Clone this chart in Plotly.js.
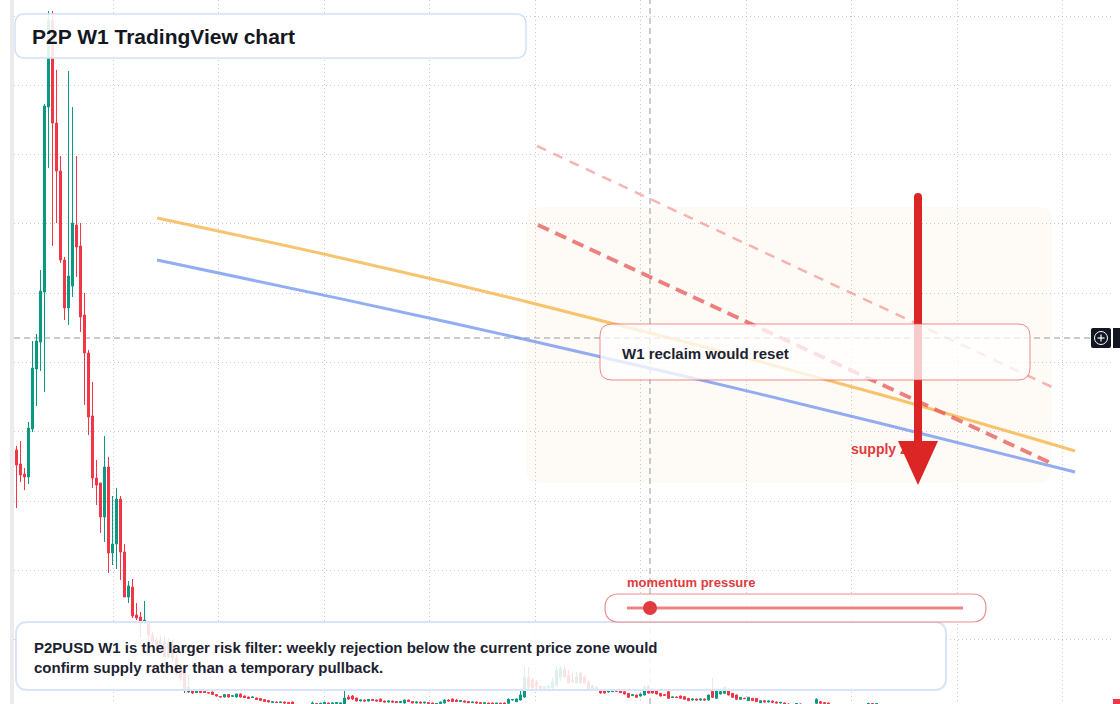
<!DOCTYPE html>
<html>
<head>
<meta charset="utf-8">
<script src="https://cdn.plot.ly/plotly-3.0.1.min.js"></script>
<style>
  html, body { margin: 0; padding: 0; background: #ffffff; }
  #chart { width: 1120px; height: 704px; }
</style>
</head>
<body>
<div id="chart"></div>
<script>
// ---------------- DATA (weekly P2PUSD candles, price in chart units) ----------------
const candleOpen = [259,245,235,232,280,340,367,417,602,689,586,538,449,401,423,484,463,394,356,293,
  231,226,192,242,156,165,210,157,112,122,94,92,87,86,74,69,62,67,52,64,
  51,39,36,17,19,16.5,18,17.5,16.5,17,14.5,12.5,12,14.5,12.8,12,15,13,12,11.5,
  11,10.5,9.5,8.5,6.5,7,6.5,7,6.5,7,4.5,3.8,4.2,3.5,4.5,5.5,4.5,5,6,5,
  5.5,5,5,12,13,11,8,9,8,9.5,9,10,8,7,8,7.5,6.5,6,9,7.5,
  6,7,6,6.5,6,5,5.5,6,9,10,9,7.5,8,7.5,6.3,7,6.5,5.5,6,6,
  5,5.8,6,5.7,9,7.3,9,12,31,29,27,23,20,21,21,24,32,40,34,29,
  26,36,32,27,20,22,19,19,17,17.3,19,19,17.3,15.7,13.5,14,13,14,23,19,
  18.3,15.7,14.3,17.3,11.5,12,13,12.3,10.7,9,10,9,10,9,19,10.7,15,15.7,19,15.7,
  14,9.7,10.8,8.3,10.7,10.7,6.3,8.3,7,8,7,6,6,5,4,4.2,5,4,4.5,4,
  5.7,7.3,6.5,6,4.5,4,3.5,4,3.3,3.7,3,3.4,3,4,5.5,5];
const candleHigh = [263,268,241,287,368,375,439,605,698,698,639,553,452,638,602,553,486,416,359,327,
  249,226,273,252,213,221,213,165,128,130,106,97,108,88,77,72,74,72,71,69,
  54,45,36,34,20,20,19,18,17,17.5,15,13,15,15,14,15.5,15.5,13.5,12.5,12.5,
  11.5,11,10,9,7.5,7.5,7.5,7.5,7,7.5,5,4.6,4.5,4.5,7.5,6,6.5,7.5,6.5,6.5,
  7,6.5,19,14,14,11.5,9.5,9.5,10,10,9.5,10.5,8.5,8.5,8.5,8,8,9.5,9.5,8,
  7.5,7.5,7.2,7,6.5,6,7.5,9.5,9.5,10.5,10,9,8.5,8,7.5,7.5,7,6.5,6.5,6.5,
  6.3,6.2,6.5,10.5,10,10.5,19,42,42,31,29,24,23,24,31,43,43,43,39,36,
  37,37,34,29,24,23,19.5,19.5,18.5,19.5,19.5,19.5,17.5,16,14.7,14.5,15.5,24,24,21,
  19,16,14.7,18,12.5,12.5,13.5,12.7,11,10.5,10.5,10.5,10.5,14.5,31,21,18,22.3,19.5,16,
  14.5,12,11.2,12,11,11,8.7,8.7,8.5,8.5,7.5,7,6.5,5.5,5,6,5.5,5,5,4.5,
  10.7,8,7,6.5,5,4.5,4.2,4.3,4,4,3.6,3.8,4,6.3,6,5.8];
const candleLow = [201,227,219,225,277,303,338,317,541,463,486,446,389,384,412,432,377,304,274,221,
  204,176,167,136,144,140,129,112,106,91,89,72,86,64,62,61,57,51,51,47,
  34,28,16,16,15,16,16,16,15.5,14,12.5,11.5,11.5,11.5,12,11.5,11.5,11,10,11,
  9,8,7,6.5,6,6,6,5.5,5,4,3,3,3,3,4,4,4,4,4.5,4.5,
  5,4.5,4,9,9,7.5,7.5,7.5,7.5,8,7.5,7,6.5,6.5,6,6,6,5.5,7,5.5,
  5.5,5.5,5.5,5,4.5,4.5,5,5.5,7.5,7,7,7,6.5,6,6,5.5,5,5,4.5,4.5,
  4.5,4.5,4.5,5,8.5,7,8.5,11,19,19,19,19,19,19,20,22,28,31,26,26,
  25,25,25,18,19,19,15.5,15.5,16.5,17,17,16,14.5,11,13,11.5,12.5,13.5,15.5,15.5,
  14.5,12.5,13,10,11,11,10,9,8,8.5,8.5,8.5,8,8.5,11,10,14.5,15,13.5,11,
  9,9,10,8,8,7,6,6.5,6.5,6.3,5.7,5.5,4.5,3.5,3.5,4,3.5,3.5,3,3,
  5,5,5,4.5,3.5,3,3,3,2.8,2.8,2.5,2.8,2.6,3.5,4.5,4.5];
const candleClose = [244,234,232,281,341,368,418,603,689,586,538,449,401,433,486,462,392,356,292,231,
  224,192,242,156,165,210,157,112,123,93,91,87,89,74,67,64,69,52,66,51,
  36,31,19,22,16,19,16.5,16.5,16,14.5,13,12,14.5,12,13.2,15,12,11.5,10.5,12,
  9.5,8.5,7.5,7,7.2,6.5,7,6,5.5,5,3.8,4.2,3.5,4,6,4.5,5.5,6.5,5,6,
  6.5,6,11,10,10,8,9,8,9.5,8.5,8,7.5,7,8,7,6.5,7.5,9,7.5,6,
  7,6,6.8,5.5,5,5.5,7,9,8,7.5,7.5,8.5,7,6.3,7,6,5.5,6.2,5,5,
  5.8,5,5,9.7,9.5,10,14,31,22,21,22,20,22.5,23,27,39,41,32,26,27,
  32,26,26,19,23,19.5,16,16,18,19,17.7,16.3,15,11.7,14.3,11.7,15,22,16,16,
  15,13,13.7,10.7,12,11.5,10.7,9.7,8.3,10,9,10,9,14,11.7,19,17.3,22,14,11.7,
  9.7,11.7,10.4,11.7,8.3,7.3,8.3,7,8,6.7,6,6.7,5,4,4.5,5.5,4,4.5,3.8,3.5,
  9.7,5.7,5.5,5,4,3.5,4,3.3,3.7,3,3.4,3,3.8,5.5,5,5.4];
const weekIndex = candleOpen.map((_, i) => i);

// trend / average lines (x = week index, y = price)
const orangeX = [35.125, 80.875, 125.875, 170.875, 215.875, 264.625];
const orangeY = [491, 451.3, 409, 363.3, 314.5, 258];
const blueX   = [35.125, 80.875, 125.875, 170.875, 215.875, 264.625];
const blueY   = [449, 410.4, 370.7, 329.2, 285.8, 237];
const resistX = [130.375, 259.625];
const resistY = [484, 244];
const upperX  = [130.125, 258.875];
const upperY  = [563, 322];

// texts
const titleText = 'P2P W1 TradingView chart';
const noteText = 'P2PUSD W1 is the larger risk filter: weekly rejection below the current price zone would<br>confirm supply rather than a temporary pullback.';
const boxText = 'W1 reclaim would reset';
const zoneText = 'supply zone';
const momentumText = 'momentum pressure';

// ---------------- LAYOUT HELPERS ----------------
const W = 1120, H = 704, PL = 14, PR = 1112;
const fx = px => (px - PL) / (PR - PL);
const fy = py => 1 - py / H;
const P = (x, y) => fx(x).toFixed(5) + ',' + fy(y).toFixed(5);
function rr(x0, y0, x1, y1, r) {
  return 'M' + P(x0 + r, y0) + ' L' + P(x1 - r, y0) + ' Q' + P(x1, y0) + ' ' + P(x1, y0 + r) +
    ' L' + P(x1, y1 - r) + ' Q' + P(x1, y1) + ' ' + P(x1 - r, y1) +
    ' L' + P(x0 + r, y1) + ' Q' + P(x0, y1) + ' ' + P(x0, y1 - r) +
    ' L' + P(x0, y0 + r) + ' Q' + P(x0, y0) + ' ' + P(x0 + r, y0) + ' Z';
}
const FONT = '"Liberation Sans", Arial, Helvetica, sans-serif';
const GRID = 'rgba(190,192,198,0.85)';

const traces = [
  {
    type: 'candlestick', x: weekIndex, open: candleOpen, high: candleHigh, low: candleLow, close: candleClose,
    increasing: { line: { color: '#089981', width: 1 }, fillcolor: '#089981' },
    decreasing: { line: { color: '#f23645', width: 1 }, fillcolor: '#f23645' },
    whiskerwidth: 0, hoverinfo: 'skip', showlegend: false
  },
  { type: 'scatter', mode: 'lines', x: orangeX, y: orangeY, line: { color: 'rgba(246,180,70,0.78)', width: 3, shape: 'spline' }, hoverinfo: 'skip', showlegend: false },
  { type: 'scatter', mode: 'lines', x: blueX, y: blueY, line: { color: 'rgba(105,142,240,0.72)', width: 3, shape: 'spline' }, hoverinfo: 'skip', showlegend: false },
  { type: 'scatter', mode: 'lines', x: upperX, y: upperY, line: { color: 'rgba(238,120,120,0.55)', width: 2.5, dash: '10px,8px' }, hoverinfo: 'skip', showlegend: false },
  { type: 'scatter', mode: 'lines', x: resistX, y: resistY, line: { color: 'rgba(228,80,80,0.72)', width: 4, dash: '12px,7px' }, hoverinfo: 'skip', showlegend: false }
];

const shapes = [
  // left strip
  { type: 'rect', xref: 'paper', yref: 'paper', x0: fx(10), x1: fx(14), y0: 0, y1: 1, fillcolor: '#ebebeb', line: { width: 0 }, layer: 'above' },
  // zone
  { type: 'path', xref: 'paper', yref: 'paper', path: rr(526, 207, 1052, 483, 14), fillcolor: 'rgba(250,215,180,0.13)', line: { width: 0 }, layer: 'between' },
  // crosshair
  { type: 'line', xref: 'paper', yref: 'paper', x0: fx(14), x1: fx(1091), y0: fy(338), y1: fy(338), line: { color: '#9598a1', width: 1, dash: '6px,4px' }, layer: 'between' },
  { type: 'line', xref: 'paper', yref: 'paper', x0: fx(650), x1: fx(650), y0: 0, y1: 1, line: { color: '#9598a1', width: 1, dash: '6px,4px' }, layer: 'between' },
  // supply zone label (under arrow head)
  { type: 'rect', xref: 'paper', yref: 'paper', x0: fx(848), x1: fx(960), y0: fy(456), y1: fy(440), fillcolor: 'rgba(0,0,0,0)', line: { width: 0 }, layer: 'above',
    label: { text: zoneText, textposition: 'middle left', padding: 0, font: { family: FONT, size: 14, color: '#e23b3e', weight: 700 } } },
  // arrow shaft + head
  { type: 'path', xref: 'paper', yref: 'paper', path: 'M' + P(914, 446) + ' L' + P(914, 197) + ' Q' + P(914, 193) + ' ' + P(918, 193) + ' Q' + P(922, 193) + ' ' + P(922, 197) + ' L' + P(922, 446) + ' Z',
    fillcolor: '#dc2626', line: { width: 0 }, layer: 'above' },
  { type: 'path', xref: 'paper', yref: 'paper', path: 'M' + P(898, 441) + ' L' + P(938, 441) + ' L' + P(918, 485) + ' Z', fillcolor: '#dc2626', line: { width: 0 }, layer: 'above' },
  // middle box
  { type: 'path', xref: 'paper', yref: 'paper', path: rr(600, 324, 1030, 380, 12), fillcolor: 'rgba(255,255,255,0.76)', line: { color: 'rgba(228,80,80,0.65)', width: 1 }, layer: 'above' },
  // title box
  { type: 'path', xref: 'paper', yref: 'paper', path: rr(15, 14, 526, 58, 10), fillcolor: 'rgba(255,255,255,0.88)', line: { color: '#d3e1f6', width: 1.5 }, layer: 'above' },
  // bottom box
  { type: 'path', xref: 'paper', yref: 'paper', path: rr(16, 622, 946, 690, 12), fillcolor: 'rgba(255,255,255,0.86)', line: { color: '#d8e5f8', width: 2 }, layer: 'above' },
  // momentum pill
  { type: 'path', xref: 'paper', yref: 'paper', path: rr(605, 594, 986, 622, 14), fillcolor: 'rgba(255,255,255,0.82)', line: { color: 'rgba(228,80,80,0.65)', width: 1.2 }, layer: 'above' },
  { type: 'line', xref: 'paper', yref: 'paper', x0: fx(627), x1: fx(963), y0: fy(608), y1: fy(608), line: { color: 'rgba(232,100,100,0.8)', width: 3 }, layer: 'above' },
  { type: 'circle', xref: 'paper', yref: 'paper', x0: fx(643), x1: fx(657), y0: fy(615), y1: fy(601), fillcolor: '#e03c40', line: { width: 0 }, layer: 'above' },
  // crosshair button
  { type: 'path', xref: 'paper', yref: 'paper', path: rr(1091, 328, 1111, 348, 2), fillcolor: '#131722', line: { width: 0 }, layer: 'above' },
  { type: 'rect', xref: 'paper', yref: 'paper', x0: fx(1113), x1: fx(1121), y0: fy(348), y1: fy(328), fillcolor: '#131722', line: { width: 0 }, layer: 'above' },
  { type: 'circle', xref: 'paper', yref: 'paper', x0: fx(1094.5), x1: fx(1107.5), y0: fy(344.5), y1: fy(331.5), fillcolor: 'rgba(0,0,0,0)', line: { color: '#ffffff', width: 1 }, layer: 'above' },
  { type: 'line', xref: 'paper', yref: 'paper', x0: fx(1097.5), x1: fx(1104.5), y0: fy(338), y1: fy(338), line: { color: '#ffffff', width: 1.2 }, layer: 'above' },
  { type: 'line', xref: 'paper', yref: 'paper', x0: fx(1101), x1: fx(1101), y0: fy(334.5), y1: fy(341.5), line: { color: '#ffffff', width: 1.2 }, layer: 'above' },
  // current price label stub
  { type: 'rect', xref: 'paper', yref: 'paper', x0: fx(1113), x1: fx(1121), y0: fy(705), y1: fy(699), fillcolor: '#f23645', line: { width: 0 }, layer: 'above' }
];

const annotations = [
  { xref: 'paper', yref: 'paper', x: fx(31), y: fy(36), xanchor: 'left', yanchor: 'middle', showarrow: false, borderpad: 0,
    text: titleText, font: { family: FONT, size: 21, color: '#131722', weight: 700 } },
  { xref: 'paper', yref: 'paper', x: fx(33), y: fy(657), xanchor: 'left', yanchor: 'middle', align: 'left', showarrow: false, borderpad: 0,
    text: noteText, font: { family: FONT, size: 15, color: '#1c2230', weight: 700 } },
  { xref: 'paper', yref: 'paper', x: fx(621), y: fy(353), xanchor: 'left', yanchor: 'middle', showarrow: false, borderpad: 0,
    text: boxText, font: { family: FONT, size: 15, color: '#1c2230', weight: 700 } },
  { xref: 'paper', yref: 'paper', x: fx(626), y: fy(582), xanchor: 'left', yanchor: 'middle', showarrow: false, borderpad: 0,
    text: momentumText, font: { family: FONT, size: 13, color: '#e03c40', weight: 700 } }
];

const layout = {
  width: W, height: H,
  margin: { l: PL, r: W - PR, t: 0, b: 0, pad: 0 },
  paper_bgcolor: '#ffffff', plot_bgcolor: 'rgba(0,0,0,0)',
  showlegend: false, hovermode: false, dragmode: false,
  boxgap: 0.29,
  xaxis: { type: 'linear', range: [-0.625, 273.875], rangeslider: { visible: false },
    showgrid: true, gridcolor: GRID, griddash: '1px,3px', gridwidth: 1,
    tick0: 24.125, dtick: 26.375, showticklabels: false, zeroline: false, showline: false, ticks: '', fixedrange: true },
  yaxis: { type: 'linear', range: [5, 709],
    showgrid: true, gridcolor: GRID, griddash: '1px,3px', gridwidth: 1,
    tick0: 0, dtick: 69.3, showticklabels: false, zeroline: false, showline: false, ticks: '', fixedrange: true },
  shapes: shapes,
  annotations: annotations
};

Plotly.newPlot('chart', traces, layout, { displayModeBar: false, staticPlot: true });
</script>
</body>
</html>
